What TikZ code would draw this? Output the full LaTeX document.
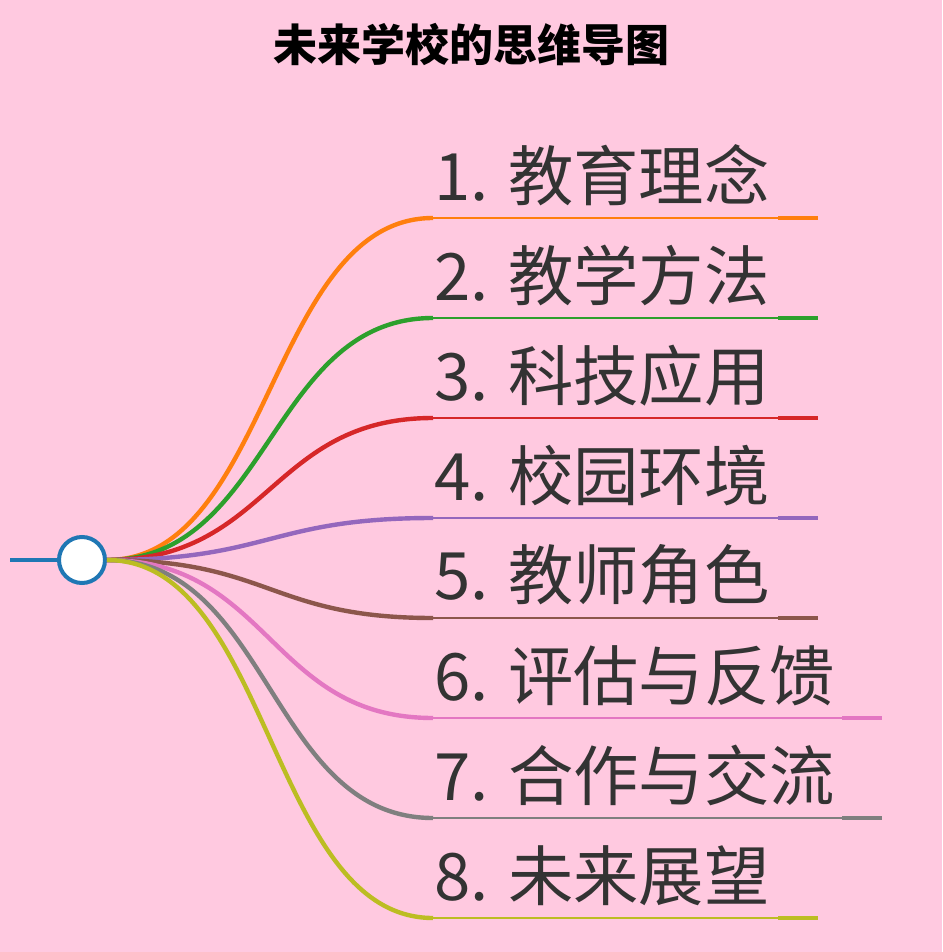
\documentclass[tikz,border=0pt]{standalone}
\usepackage{fontspec}
\setmainfont{Noto Sans CJK SC}
\newfontfamily\lbl{DejaVu Sans}
\definecolor{bg}{HTML}{FFC9E0}
\definecolor{c1}{HTML}{FF7F0E}
\definecolor{c2}{HTML}{2CA02C}
\definecolor{c3}{HTML}{D62728}
\definecolor{c4}{HTML}{9467BD}
\definecolor{c5}{HTML}{8C564B}
\definecolor{c6}{HTML}{E377C2}
\definecolor{c7}{HTML}{7F7F7F}
\definecolor{c8}{HTML}{BCBD22}
\definecolor{rootblue}{HTML}{1F77B4}
\definecolor{txt}{HTML}{333333}
\tikzset{
  lab/.style={anchor=south west,inner sep=0pt,text=txt,font=\fontsize{49}{52}\selectfont},
  branch/.style={line width=3.3pt},
  uline/.style={line width=1.5pt},
  tip/.style={line width=3.3pt},
}
\begin{document}
\begin{tikzpicture}[x=0.75pt,y=-0.75pt]
\fill[bg] (0,0) rectangle (942,952);
\node[font=\fontsize{33}{36}\selectfont\bfseries] (title) at (471,45) {未来学校的思维导图};
\coordinate (s) at (10,560);
\node[circle,draw=rootblue,fill=white,line width=3pt,minimum size=46pt*0.75,inner sep=0pt] (root) at (82,560) {};
\draw[rootblue,line width=3.5pt] (s) -- (root.west);
\foreach \i/\t/\c/\w in {1/1. 教育理念/c1/818,2/2. 教学方法/c2/818,3/3. 科技应用/c3/818,4/4. 校园环境/c4/818,5/5. 教师角色/c5/818,6/6. 评估与反馈/c6/882,7/7. 合作与交流/c7/882,8/8. 未来展望/c8/818}{
  \pgfmathsetmacro\yy{118+100*\i}
  \coordinate (a\i) at (433,\yy);
  \coordinate (e\i) at (\w,\yy);
  \coordinate (m\i) at (\w-40,\yy);
  \node[lab] (n\i) at (434,\yy-12) {\t};
  \draw[\c,branch] (root.east) .. controls (270,560) and (270,\yy) .. (a\i);
  \draw[\c,uline] (a\i) -- (m\i);
  \draw[\c,tip] (m\i) -- (e\i);
}
\end{tikzpicture}
\end{document}
